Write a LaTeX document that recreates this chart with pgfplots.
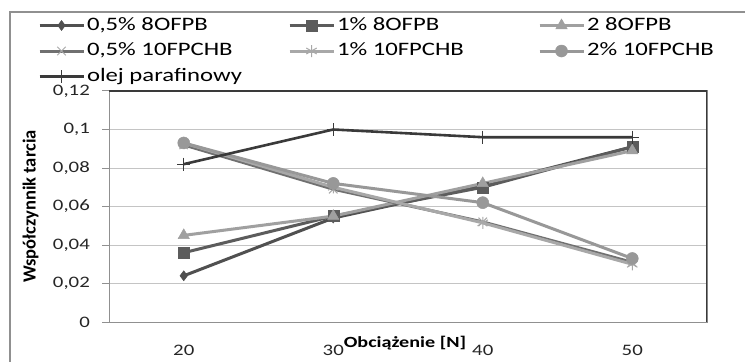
\documentclass[border=0pt]{standalone}
\usepackage{fontspec}
\setmainfont{Carlito}[FakeStretch=1.3]
\newfontfamily\ylabfont{Carlito}
\usepackage{pgfplots}
\pgfplotsset{compat=1.18}
\definecolor{cA}{HTML}{505050}
\definecolor{cB}{HTML}{5C5C5C}
\definecolor{cC}{HTML}{A0A0A0}
\definecolor{cD}{HTML}{707070}
\definecolor{cE}{HTML}{A8A8A8}
\definecolor{cF}{HTML}{989898}
\definecolor{cG}{HTML}{3A3A3A}
\definecolor{axgray}{HTML}{909090}
\definecolor{gridgray}{HTML}{C4C4C4}
\begin{document}
\begin{tikzpicture}[x=1bp,y=1bp]
\path[use as bounding box] (0,0) rectangle (745,361);
\fill[white] (0,0) rectangle (745,361);
\draw[axgray, line width=2bp] (10,-10) -- (10,349) -- (760,349);
\begin{axis}[
  at={(109bp,39bp)}, anchor=south west,
  scale only axis, width=598bp, height=231bp,
  xmin=15, xmax=55, ymin=0, ymax=0.12,
  xtick={20,30,40,50},
  xticklabels={20,30,40,50},
  ytick={0,0.02,0.04,0.06,0.08,0.1,0.12},
  yticklabels={0,{0,02},{0,04},{0,06},{0,08},{0,1},{0,12}},
  ymajorgrids, grid style={gridgray, line width=1bp},
  axis line style={axgray, line width=1bp},
  tick align=outside, major tick length=7bp,
  ytick pos=left, xtick pos=bottom,
  ytick style={axgray, line width=1bp},
  xtick style={draw=none},
  ticklabel style={font=\fontsize{16bp}{18bp}\selectfont, text=black!85},
  yticklabel style={anchor=east, inner sep=0pt, xshift=-12bp},
  xticklabel style={anchor=center, inner sep=0pt, yshift=-21bp},
  xlabel={Obciążenie [N]},
  xlabel style={at={(axis description cs:0.495,0)}, anchor=center, yshift=-21bp, font=\bfseries\fontsize{15.5bp}{17bp}\selectfont},
  ylabel={Współczynnik tarcia},
  ylabel style={at={(axis description cs:-0.131,0.5)}, anchor=center, font=\ylabfont\bfseries\fontsize{18.5bp}{20bp}\selectfont},
  legend columns=3,
  legend style={draw=none, fill=none, inner sep=0pt, outer sep=0pt,
    at={(axis description cs:-0.1187,1.3203)}, anchor=north west,
    nodes={inner sep=0pt, text height=13bp, text depth=4bp, font=\fontsize{19bp}{21bp}\selectfont},
    row sep=8.5bp,
    /tikz/every odd column/.append style={column sep=2bp}},
  legend cell align=left,
  legend image code/.code={\draw[mark repeat=2, mark phase=2] plot coordinates {(0bp,0bp) (22bp,0bp) (44bp,0bp)};},
]
\addplot[cA, line width=3bp, mark=diamond*, mark size=5bp, mark options={solid, fill=cA, line width=0.5bp}] coordinates {(20,0.024) (30,0.054) (40,0.071) (50,0.091)};
\addlegendentry{\makebox[201bp][l]{0,5\% 8OFPB}}
\addplot[cB, line width=3bp, mark=square*, mark size=5.5bp, mark options={solid, fill=cB, line width=0.5bp}] coordinates {(20,0.036) (30,0.055) (40,0.070) (50,0.091)};
\addlegendentry{\makebox[201bp][l]{1\% 8OFPB}}
\addplot[cC, line width=3bp, mark=triangle*, mark size=6.5bp, mark options={solid, fill=cC, line width=0.5bp}] coordinates {(20,0.045) (30,0.055) (40,0.072) (50,0.089)};
\addlegendentry{\makebox[201bp][l]{2 8OFPB}}
\addplot[cD, line width=3bp, mark=x, mark size=6bp, mark options={solid, draw=cE, line width=1bp}] coordinates {(20,0.092) (30,0.069) (40,0.052) (50,0.031)};
\addlegendentry{\makebox[201bp][l]{0,5\% 10FPCHB}}
\addplot[cE, line width=3bp, mark=asterisk, mark size=6bp, mark options={solid, line width=1bp}] coordinates {(20,0.093) (30,0.070) (40,0.0515) (50,0.030)};
\addlegendentry{\makebox[201bp][l]{1\% 10FPCHB}}
\addplot[cF, line width=3bp, mark=*, mark size=6bp, mark options={solid, fill=cF, line width=0.5bp}] coordinates {(20,0.093) (30,0.072) (40,0.062) (50,0.033)};
\addlegendentry{\makebox[201bp][l]{2\% 10FPCHB}}
\addplot[cG, line width=2.6bp, mark=+, mark size=6.5bp, mark options={solid, line width=1bp}] coordinates {(20,0.082) (30,0.100) (40,0.096) (50,0.096)};
\addlegendentry{\makebox[201bp][l]{olej parafinowy}}
\draw[cG, line width=1.2bp] (rel axis cs:0,1) -- (rel axis cs:1,1) -- (rel axis cs:1,0);
\end{axis}
\end{tikzpicture}
\end{document}
